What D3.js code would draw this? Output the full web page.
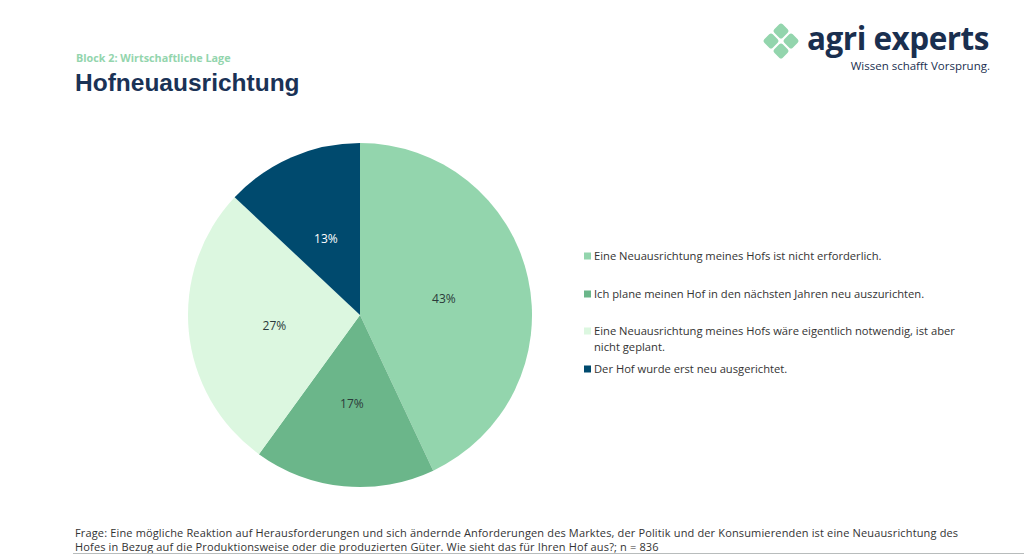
<!DOCTYPE html>
<html><head><meta charset="utf-8">
<script src="https://cdn.jsdelivr.net/npm/d3@7"></script>
<style>body{margin:0;background:#fff}svg{display:block}</style>
</head><body>
<svg id="c" width="1024" height="554"></svg>
<script>
const categories = [
  "Eine Neuausrichtung meines Hofs ist nicht erforderlich.",
  "Ich plane meinen Hof in den nächsten Jahren neu auszurichten.",
  "Eine Neuausrichtung meines Hofs wäre eigentlich notwendig, ist aber nicht geplant.",
  "Der Hof wurde erst neu ausgerichtet."
];
const legendLines = [
  ["Eine Neuausrichtung meines Hofs ist nicht erforderlich."],
  ["Ich plane meinen Hof in den nächsten Jahren neu auszurichten."],
  ["Eine Neuausrichtung meines Hofs wäre eigentlich notwendig, ist aber", "nicht geplant."],
  ["Der Hof wurde erst neu ausgerichtet."]
];
const values = [43, 17, 27, 13];
const colors = ["#93d5ad", "#6bb68a", "#dcf7e0", "#004a6e"];
const labelColors = ["#2b3a3a", "#2b3a3a", "#2b3a3a", "#ffffff"];
const footer = [
  "Frage: Eine mögliche Reaktion auf Herausforderungen und sich ändernde Anforderungen des Marktes, der Politik und der Konsumierenden ist eine Neuausrichtung des",
  "Hofes in Bezug auf die Produktionsweise oder die produzierten Güter. Wie sieht das für Ihren Hof aus?; n = 836"
];

const svg = d3.select("#c");
const font = "'Open Sans', 'Noto Sans', sans-serif";

// header
svg.append("text").attr("x", 76).attr("y", 62).attr("fill", "#93d5ad")
  .attr("font-family", font).attr("font-weight", 700).attr("font-size", 10.8)
  .text("Block 2: Wirtschaftliche Lage");
svg.append("text").attr("x", 75).attr("y", 91).attr("fill", "#1a3256")
  .attr("font-family", "'Liberation Sans', Arial, sans-serif").attr("font-weight", 700).attr("font-size", 24.5)
  .text("Hofneuausrichtung");

// logo
const logo = svg.append("g").attr("transform", "translate(781,41)");
[[0,-10],[-10,0],[10,0],[0,10]].forEach(([dx,dy]) => {
  logo.append("rect").attr("x", -6).attr("y", -6).attr("width", 12).attr("height", 12)
    .attr("rx", 2.5).attr("fill", "#93d5ad")
    .attr("transform", `translate(${dx},${dy}) rotate(45)`);
});
svg.append("text").attr("x", 807).attr("y", 50).attr("fill", "#1a2f4f")
  .attr("font-family", font).attr("font-weight", 700).attr("font-size", 31.5)
  .attr("letter-spacing", -0.5).text("agri experts");
svg.append("text").attr("x", 990).attr("y", 70).attr("text-anchor", "end").attr("fill", "#1a2f4f")
  .attr("font-family", font).attr("font-size", 11.5).text("Wissen schafft Vorsprung.");

// pie
const cx = 360, cy = 315, r = 172;
const pie = d3.pie().sort(null).value(d => d)(values);
const arc = d3.arc().innerRadius(0).outerRadius(r);
const labelArc = d3.arc().innerRadius(0).outerRadius(r);
const g = svg.append("g").attr("transform", `translate(${cx},${cy})`);
g.selectAll("path").data(pie).join("path").attr("d", arc).attr("fill", (d,i) => colors[i]);
g.selectAll("text").data(pie).join("text")
  .attr("transform", d => `translate(${labelArc.centroid(d)})`)
  .attr("text-anchor", "middle").attr("dy", "0.6em")
  .attr("font-family", font).attr("font-size", 12)
  .attr("fill", (d,i) => labelColors[i])
  .text(d => d.data + "%");

// legend
const legY = [256, 294, 331, 369];
const lg = svg.append("g");
legendLines.forEach((lines, i) => {
  lg.append("rect").attr("x", 584).attr("y", legY[i] - 3.5).attr("width", 7).attr("height", 7).attr("fill", colors[i]);
  lines.forEach((t, j) => {
    lg.append("text").attr("x", 594).attr("y", legY[i] + j * 16).attr("dy", "0.35em")
      .attr("font-family", font).attr("font-size", 11.2).attr("fill", "#333")
      .text(t);
  });
});

// footer
footer.forEach((t, j) => {
  svg.append("text").attr("x", 75).attr("y", 537 + j * 13.5)
    .attr("font-family", font).attr("font-size", 11).attr("letter-spacing", 0.15)
    .attr("fill", "#333").text(t);
});
svg.append("line").attr("x1", 73).attr("x2", 1024).attr("y1", 553.5).attr("y2", 553.5)
  .attr("stroke", "#b8bcbc").attr("stroke-width", 1);
</script>
</body></html>
